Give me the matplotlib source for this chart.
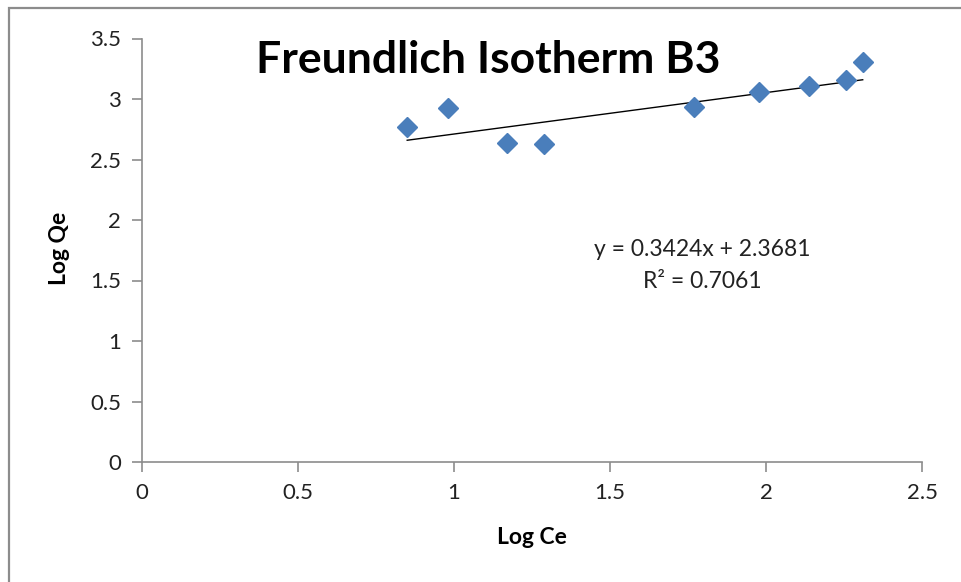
import numpy as np
import matplotlib
matplotlib.use("Agg")
import matplotlib.pyplot as plt
from matplotlib.patches import Rectangle

# Data
log_ce = [0.850, 0.982, 1.171, 1.288, 1.768, 1.977, 2.138, 2.255, 2.310]
log_qe = [2.765, 2.922, 2.640, 2.624, 2.930, 3.060, 3.109, 3.154, 3.308]
slope = 0.3424
intercept = 2.3681
r2 = 0.7061

plt.rcParams['font.family'] = ['Lato', 'DejaVu Sans']

fig = plt.figure(figsize=(9.62, 5.82), dpi=100)
ax = fig.add_axes([142/962, 1 - 462/582, (922 - 142)/962, (462 - 38.5)/582])

# outer chart frame
fig.patches.append(Rectangle((9/962, -0.1), 1.2, 1 - 8/582 + 0.1, transform=fig.transFigure,
                             fill=False, edgecolor="#8c8c8c", linewidth=1.6))

ax.plot(log_ce, log_qe, linestyle="none", marker="D", markersize=10.5,
        color="#4a7ebb", zorder=3)

# linear trendline
xs = np.array([min(log_ce), max(log_ce)])
ax.plot(xs, slope * xs + intercept, color="black", linewidth=1, zorder=2)

ax.set_xlim(0, 2.5)
ax.set_ylim(0, 3.5)
ax.set_xticks(np.arange(0, 2.51, 0.5))
ax.set_yticks(np.arange(0, 3.51, 0.5))
ax.set_xticklabels(["0", "0.5", "1", "1.5", "2", "2.5"])
ax.set_yticklabels(["0", "0.5", "1", "1.5", "2", "2.5", "3", "3.5"])

for s in ["top", "right"]:
    ax.spines[s].set_visible(False)
for s in ["left", "bottom"]:
    ax.spines[s].set_color("#8c8c8c")
    ax.spines[s].set_linewidth(1.2)
ax.tick_params(axis="both", colors="#8c8c8c", labelcolor="#222222",
               labelsize=16, length=7, width=1.2, pad=8)

fig.text(488/962, 1 - 60/582, "Freundlich Isotherm B3", ha="center", va="center",
         fontsize=32, fontweight="bold")
fig.text(60/962, 1 - 248/582, "Log Qe", ha="center", va="center", rotation=90,
         fontsize=16.5, fontweight="bold")
fig.text(532/962, 1 - 538/582, "Log Ce", ha="center", va="center",
         fontsize=16.5, fontweight="bold")

fig.text(702/962, 1 - 249/582, "y = %.4fx + %.4f" % (slope, intercept), ha="center",
         va="center", fontsize=16.5, color="#222222")
fig.text(702/962, 1 - 281/582, "R² = %.4f" % r2, ha="center", va="center",
         fontsize=16.5, color="#222222")

fig.savefig("out.png", dpi=100)
